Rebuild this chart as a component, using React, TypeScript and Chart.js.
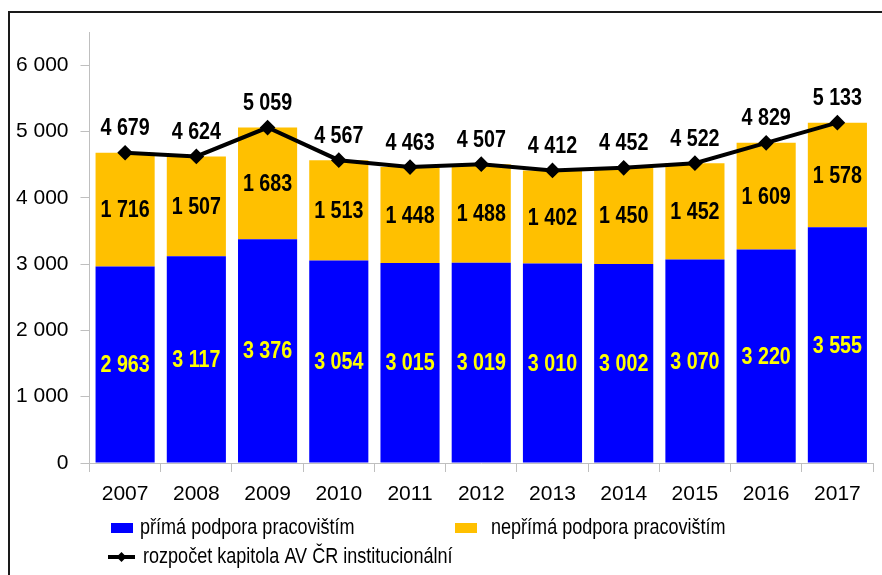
import React, { useEffect, useRef } from "react";
import { Chart, registerables } from "chart.js";

Chart.register(...registerables);

const years = ["2007", "2008", "2009", "2010", "2011", "2012", "2013", "2014", "2015", "2016", "2017"];
const direct = [2963, 3117, 3376, 3054, 3015, 3019, 3010, 3002, 3070, 3220, 3555];
const indirect = [1716, 1507, 1683, 1513, 1448, 1488, 1402, 1450, 1452, 1609, 1578];
const budget = [4679, 4624, 5059, 4567, 4463, 4507, 4412, 4452, 4522, 4829, 5133];
const yTicks = [0, 1000, 2000, 3000, 4000, 5000, 6000];
const legendLabels = ["přímá podpora pracovištím", "nepřímá podpora pracovištím", "rozpočet kapitola AV ČR institucionální"];

const FONT = '"Liberation Sans", Arial, sans-serif';
const BLUE = "#0000FF";
const ORANGE = "#FFC000";
const NARROW = 0.82;

const fmt = (v: number) => String(Math.round(v)).replace(/\B(?=(\d{3})+(?!\d))/g, " ");

function narrowText(ctx: any, text: string, x: number, y: number) {
  ctx.save();
  ctx.translate(x, y);
  ctx.scale(NARROW, 1);
  ctx.fillText(text, 0, 0);
  ctx.restore();
}

const labelPlugin = {
  id: "valueLabels",
  afterDatasetsDraw(chart: any) {
    const ctx = chart.ctx;
    ctx.save();
    ctx.textAlign = "center";
    ctx.textBaseline = "middle";
    ctx.font = `bold 24px ${FONT}`;
    chart.data.datasets.forEach((ds: any, i: number) => {
      const meta = chart.getDatasetMeta(i);
      meta.data.forEach((el: any, j: number) => {
        const v = ds.data[j];
        if (ds.type === "line") {
          ctx.fillStyle = "#000";
          narrowText(ctx, fmt(v), el.x, el.y - 24);
        } else {
          const p = el.getProps(["x", "y", "base"], true);
          ctx.fillStyle = i === 1 ? "#FFFF00" : "#000";
          narrowText(ctx, fmt(v), p.x, (p.y + p.base) / 2 + 1);
        }
      });
    });
    ctx.restore();
  },
  afterDraw(chart: any) {
    const ctx = chart.ctx;
    ctx.save();
    ctx.font = `22px ${FONT}`;
    ctx.textBaseline = "middle";
    ctx.textAlign = "left";
    const r1 = 528;
    const r2 = 557;
    ctx.fillStyle = BLUE;
    ctx.fillRect(111, r1 - 5, 22, 10);
    ctx.fillStyle = "#000";
    narrowText(ctx, legendLabels[0], 140, r1);
    ctx.fillStyle = ORANGE;
    ctx.fillRect(455, r1 - 5, 22, 10);
    ctx.fillStyle = "#000";
    narrowText(ctx, legendLabels[1], 491, r1);
    ctx.strokeStyle = "#000";
    ctx.lineWidth = 4;
    ctx.beginPath();
    ctx.moveTo(108, r2);
    ctx.lineTo(135, r2);
    ctx.stroke();
    ctx.beginPath();
    ctx.moveTo(121.5, r2 - 5);
    ctx.lineTo(126.5, r2);
    ctx.lineTo(121.5, r2 + 5);
    ctx.lineTo(116.5, r2);
    ctx.closePath();
    ctx.fill();
    narrowText(ctx, legendLabels[2], 143, r2);
    ctx.restore();
  },
};

export default function App() {
  const ref = useRef<HTMLCanvasElement>(null);
  useEffect(() => {
    if (!ref.current) return;
    const chart = new Chart(ref.current, {
      type: "bar",
      data: {
        labels: years,
        datasets: [
          {
            type: "line",
            label: legendLabels[2],
            data: budget,
            borderColor: "#000",
            backgroundColor: "#000",
            borderWidth: 4,
            pointStyle: "rectRot",
            pointRadius: 5,
            pointBackgroundColor: "#000",
            pointBorderColor: "#000",
            tension: 0,
            order: 0,
            stack: "line",
          } as any,
          {
            type: "bar",
            label: legendLabels[0],
            data: direct,
            backgroundColor: BLUE,
            order: 1,
            stack: "bars",
            categoryPercentage: 1,
            barPercentage: 0.83,
          },
          {
            type: "bar",
            label: legendLabels[1],
            data: indirect,
            backgroundColor: ORANGE,
            order: 2,
            stack: "bars",
            categoryPercentage: 1,
            barPercentage: 0.83,
          },
        ],
      },
      options: {
        responsive: false,
        animation: false,
        layout: { padding: { top: 32, right: 6, left: 0, bottom: 0 } },
        plugins: { legend: { display: false }, tooltip: { enabled: false }, title: { display: false } },
        scales: {
          x: {
            stacked: true,
            offset: true,
            grid: { offset: true, drawOnChartArea: false, drawTicks: true, tickLength: 9, color: "#BFBFBF" },
            border: { color: "#BFBFBF", width: 1 },
            ticks: { color: "#000", font: { family: FONT, size: 21 }, padding: 10, maxRotation: 0 },
            afterFit: (s: any) => {
              s.height = 112;
            },
          },
          y: {
            stacked: true,
            min: 0,
            max: 6500,
            grid: { drawOnChartArea: false, drawTicks: true, tickLength: 9, color: "#BFBFBF" },
            border: { color: "#BFBFBF", width: 1 },
            ticks: {
              color: "#000",
              font: { family: FONT, size: 21 },
              padding: 12,
              callback: (v: any) => fmt(Number(v)),
            },
            afterBuildTicks: (s: any) => {
              s.ticks = yTicks.map((v) => ({ value: v }));
            },
            afterFit: (s: any) => {
              s.width = 89.5;
            },
          },
        },
      },
      plugins: [labelPlugin],
    });
    return () => chart.destroy();
  }, []);
  return (
    <div style={{ position: "fixed", left: 0, top: 0, width: 882, height: 575, overflow: "hidden", background: "#fff" }}>
      <div
        style={{
          position: "absolute",
          left: 8,
          top: 11,
          width: 920,
          height: 620,
          border: "2px solid #1a1a1a",
          boxSizing: "border-box",
        }}
      />
      <canvas ref={ref} width={882} height={575} style={{ position: "absolute", left: 0, top: 0 }} />
    </div>
  );
}
